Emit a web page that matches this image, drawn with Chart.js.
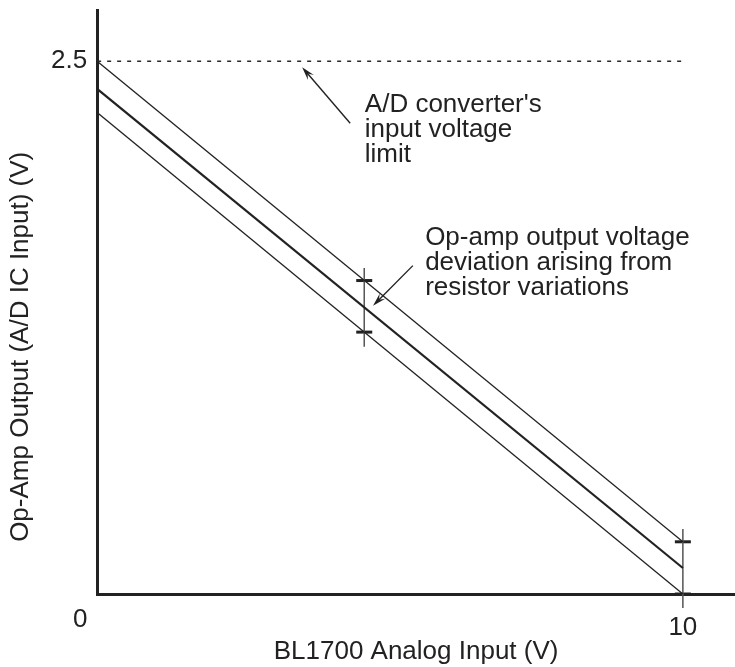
<!DOCTYPE html>
<html>
<head>
<meta charset="utf-8">
<script src="https://cdn.jsdelivr.net/npm/chart.js@4/dist/chart.umd.min.js"></script>
<style>
  body { margin: 0; background: #fff; }
  #wrap { width: 735px; height: 667px; }
</style>
</head>
<body>
<div id="wrap"><canvas id="chart"></canvas></div>
<script>
// values
const xEnds = [0, 10];
const upperLine = [2.5, 0.245];     // +deviation
const nominalLine = [2.37, 0.122];  // nominal op-amp output
const lowerLine = [2.26, 0];        // -deviation
const limitLine = [2.5, 2.5];       // A/D input limit

const barX = [4.56, 10];
const barTop = [1.53, 0.305];
const barBottom = [1.16, -0.066];
const capHigh = [1.471, 0.245];
const capLow = [1.229, 0];

const xTicks = [0, 10];
const yTicks = [2.5];
const xTitle = 'BL1700 Analog Input (V)';
const yTitle = 'Op-Amp Output (A/D IC Input) (V)';
const noteLimit = ["A/D converter's", 'input voltage', 'limit'];
const noteDeviation = ['Op-amp output voltage', 'deviation arising from', 'resistor variations'];

const FONT = "'Liberation Sans', Arial, sans-serif";
const INK = '#222';

const pts = (xs, ys) => xs.map((x, i) => ({ x: x, y: ys[i] }));

const lineSet = (vals, width, dash, color) => ({
  data: pts(xEnds, vals),
  showLine: true,
  borderColor: color || INK,
  borderWidth: width,
  borderDash: dash || [],
  pointRadius: 0
});

const datasets = [
  lineSet(limitLine, 1.4, [4, 6], '#2a2a2a'),
  lineSet(upperLine, 1.3),
  lineSet(nominalLine, 2.2),
  lineSet(lowerLine, 1.3)
];

// error bars: thin vertical line + thick caps
barX.forEach((x, i) => {
  datasets.push({
    data: [{ x: x, y: barTop[i] }, { x: x, y: barBottom[i] }],
    showLine: true,
    borderColor: '#555',
    borderWidth: 1.5,
    pointRadius: 0,
    clip: false
  });
});
datasets.push({
  data: pts(barX, capHigh).concat(pts(barX, capLow)),
  showLine: false,
  pointStyle: 'line',
  pointRadius: 8,
  pointBorderWidth: 3,
  pointBorderColor: INK,
  clip: false
});

// annotation positions in data units
const notes = [
  { lines: noteLimit, x: 4.57, y: 2.26, tail: [4.32, 2.209], tip: [3.5, 2.472] },
  { lines: noteDeviation, x: 5.6, y: 1.64, tail: [5.39, 1.541], tip: [4.71, 1.353] }
];

const drawArrow = (ctx, x1, y1, x2, y2) => {
  const a = Math.atan2(y2 - y1, x2 - x1);
  const len = 14, spread = 0.28;
  ctx.beginPath();
  ctx.moveTo(x1, y1);
  ctx.lineTo(x2 - Math.cos(a) * 6, y2 - Math.sin(a) * 6);
  ctx.stroke();
  ctx.beginPath();
  ctx.moveTo(x2, y2);
  ctx.lineTo(x2 - len * Math.cos(a - spread), y2 - len * Math.sin(a - spread));
  ctx.lineTo(x2 - len * 0.6 * Math.cos(a), y2 - len * 0.6 * Math.sin(a));
  ctx.lineTo(x2 - len * Math.cos(a + spread), y2 - len * Math.sin(a + spread));
  ctx.closePath();
  ctx.fill();
};

const annotate = {
  id: 'annotate',
  afterDraw(chart) {
    const { ctx, scales: { x, y }, chartArea } = chart;
    ctx.save();
    ctx.fillStyle = INK;
    ctx.strokeStyle = INK;
    ctx.lineWidth = 1.4;
    ctx.font = '26px ' + FONT;
    ctx.textBaseline = 'alphabetic';
    ctx.textAlign = 'left';
    notes.forEach(n => {
      n.lines.forEach((t, i) => ctx.fillText(t, x.getPixelForValue(n.x), y.getPixelForValue(n.y) + i * 25));
      drawArrow(ctx, x.getPixelForValue(n.tail[0]), y.getPixelForValue(n.tail[1]),
        x.getPixelForValue(n.tip[0]), y.getPixelForValue(n.tip[1]));
    });

    // origin "0" sits below-left of the corner
    ctx.textAlign = 'center';
    ctx.textBaseline = 'middle';
    ctx.fillText(String(xTicks[0]), x.getPixelForValue(xTicks[0]) - 17, y.getPixelForValue(0) + 26);

    // y axis title
    ctx.translate(chartArea.left - 76, y.getPixelForValue(1.16));
    ctx.rotate(-Math.PI / 2);
    ctx.fillText(yTitle, 0, 0);
    ctx.restore();
  }
};

new Chart(document.getElementById('chart'), {
  type: 'scatter',
  data: { datasets: datasets },
  plugins: [annotate],
  options: {
    responsive: true,
    maintainAspectRatio: false,
    animation: false,
    layout: { autoPadding: false, padding: { left: 41, top: 5, right: 0, bottom: 2 } },
    plugins: { legend: { display: false }, tooltip: { enabled: false } },
    scales: {
      x: {
        type: 'linear',
        min: 0,
        max: 10.89,
        afterBuildTicks: s => { s.ticks = xTicks.filter(v => v !== 0).map(v => ({ value: v })); },
        grid: { display: false, drawTicks: false },
        border: { display: true, color: INK, width: 3 },
        ticks: { color: INK, padding: 21, font: { family: FONT, size: 26, lineHeight: 1 } },
        title: {
          display: true,
          text: xTitle,
          color: INK,
          font: { family: FONT, size: 26, lineHeight: 1 },
          padding: { top: -23, bottom: 0 }
        }
      },
      y: {
        type: 'linear',
        min: 0,
        max: 2.74,
        afterBuildTicks: s => { s.ticks = yTicks.map(v => ({ value: v })); },
        grid: { display: false, drawTicks: false },
        border: { display: true, color: INK, width: 3 },
        ticks: { color: INK, padding: 10, font: { family: FONT, size: 26, lineHeight: 0.01 },
          callback: v => String(v) }
      }
    }
  }
});
</script>
</body>
</html>
